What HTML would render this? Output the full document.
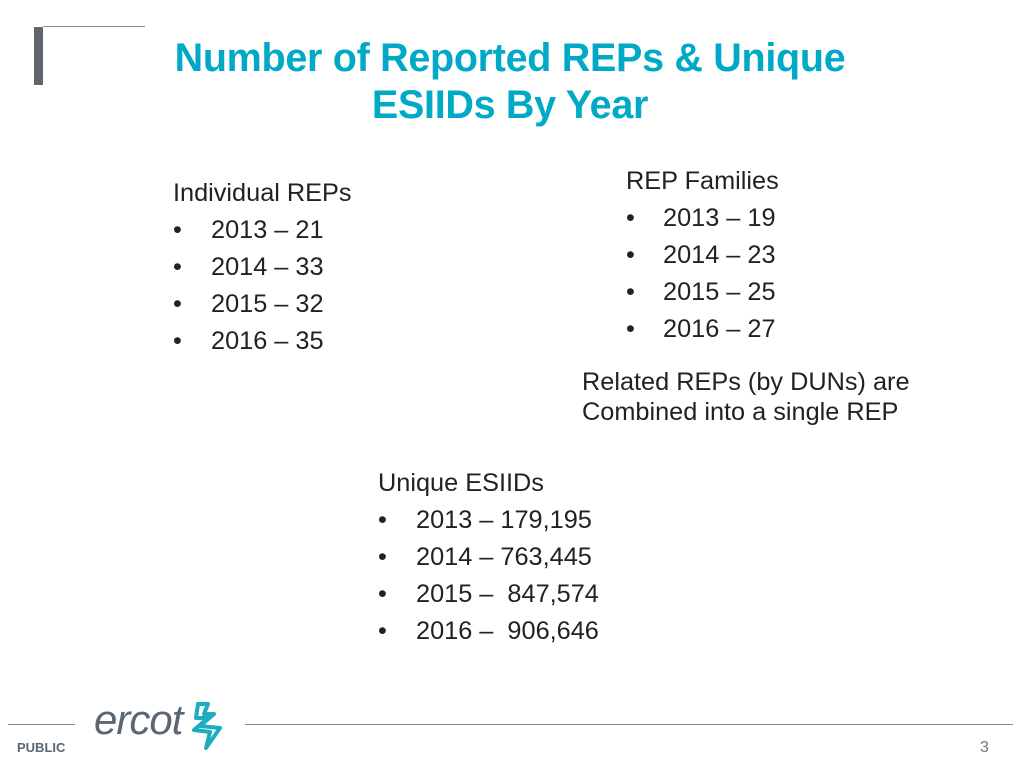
<!DOCTYPE html>
<html><head><meta charset="utf-8"><style>
body{margin:0;width:1024px;height:768px;background:#fff;position:relative;overflow:hidden;font-family:"Liberation Sans",Arial,sans-serif;}
.a{position:absolute;white-space:nowrap}
.t{color:#00a9c5;font-weight:bold;font-size:39.5px;line-height:47px;text-align:center;left:110px;width:800px;top:35px;letter-spacing:-0.3px}
.b{font-size:25.3px;color:#222;line-height:37px}
</style></head><body>
<div class="a" style="left:34px;top:27px;width:9px;height:58px;background:#5f666d"></div>
<div class="a" style="left:43px;top:26px;width:102px;height:1px;background:#8a8f94"></div>
<div class="a t">Number of Reported REPs &amp; Unique<br>ESIIDs By Year</div>

<div class="a b" style="left:173px;top:175px">
<div>Individual REPs</div>
<div>•<span style="position:absolute;left:38px">2013 – 21</span></div>
<div>•<span style="position:absolute;left:38px">2014 – 33</span></div>
<div>•<span style="position:absolute;left:38px">2015 – 32</span></div>
<div>•<span style="position:absolute;left:38px">2016 – 35</span></div>
</div>

<div class="a b" style="left:626px;top:163px">
<div>REP Families</div>
<div>•<span style="position:absolute;left:37px">2013 – 19</span></div>
<div>•<span style="position:absolute;left:37px">2014 – 23</span></div>
<div>•<span style="position:absolute;left:37px">2015 – 25</span></div>
<div>•<span style="position:absolute;left:37px">2016 – 27</span></div>
</div>

<div class="a b" style="left:582px;top:367px;line-height:30px">Related REPs (by DUNs) are<br>Combined into a single REP</div>

<div class="a b" style="left:378px;top:465px">
<div>Unique ESIIDs</div>
<div>•<span style="position:absolute;left:38px">2013 – 179,195</span></div>
<div>•<span style="position:absolute;left:38px">2014 – 763,445</span></div>
<div>•<span style="position:absolute;left:38px">2015 –&nbsp; 847,574</span></div>
<div>•<span style="position:absolute;left:38px">2016 –&nbsp; 906,646</span></div>
</div>

<div class="a" style="left:8px;top:724px;width:67px;height:1px;background:#888"></div>
<div class="a" style="left:245px;top:724px;width:768px;height:1px;background:#888"></div>
<div class="a" style="left:17px;top:740px;font-size:13px;font-weight:bold;color:#5b6670">PUBLIC</div>
<div class="a" style="left:94px;top:696px;font-size:42px;font-style:italic;color:#5b6670;letter-spacing:-1px">ercot</div>
<svg class="a" style="left:190px;top:702px" width="36" height="48" viewBox="0 0 36 48">
<path d="M8 2 L18 2 L14 12 L24 12 L10 24 L30 26 L16 46 L20 30 L4 28 L18 16 L6 16 Z" fill="none" stroke="#1aaebf" stroke-width="4" stroke-linejoin="round"/>
</svg>
<div class="a" style="left:980px;top:739px;font-size:16px;color:#777">3</div>
</body></html>
